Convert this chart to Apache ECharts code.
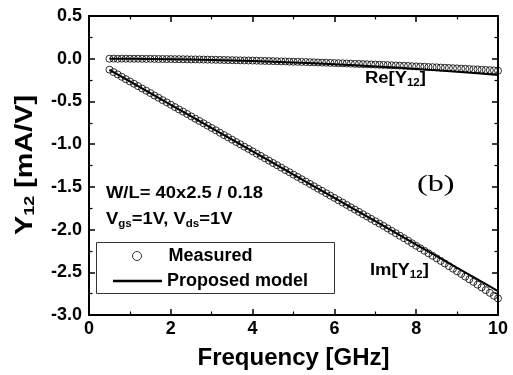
<!DOCTYPE html>
<html>
<head>
<meta charset="utf-8">
<script src="https://cdn.jsdelivr.net/npm/echarts@6/dist/echarts.min.js"></script>
<style>html,body{margin:0;padding:0;background:#fff}#c{width:513px;height:375px}</style>
</head>
<body>
<div id="c"></div>
<script>
// Measured frequency grid (GHz)
var measFreq = [0.5,0.6,0.7,0.8,0.9,1.0,1.1,1.2,1.3,1.4,1.5,1.6,1.7,1.8,1.9,2.0,2.1,2.2,2.3,2.4,2.5,2.6,2.7,2.8,2.9,3.0,3.1,3.2,3.3,3.4,3.5,3.6,3.7,3.8,3.9,4.0,4.1,4.2,4.3,4.4,4.5,4.6,4.7,4.8,4.9,5.0,5.1,5.2,5.3,5.4,5.5,5.6,5.7,5.8,5.9,6.0,6.1,6.2,6.3,6.4,6.5,6.6,6.7,6.8,6.9,7.0,7.1,7.2,7.3,7.4,7.5,7.6,7.7,7.8,7.9,8.0,8.1,8.2,8.3,8.4,8.5,8.6,8.7,8.8,8.9,9.0,9.1,9.2,9.3,9.4,9.5,9.6,9.7,9.8,9.9,10.0];
// Measured Re[Y12] (mA/V)
var measRe = [0.000,0.001,-0.001,0.001,0.000,0.000,-0.001,0.000,-0.001,-0.002,-0.001,-0.002,-0.003,-0.003,-0.004,-0.004,-0.005,-0.005,-0.006,-0.007,-0.008,-0.008,-0.009,-0.010,-0.011,-0.012,-0.013,-0.014,-0.015,-0.016,-0.017,-0.018,-0.019,-0.020,-0.021,-0.022,-0.023,-0.025,-0.026,-0.027,-0.028,-0.030,-0.031,-0.032,-0.034,-0.035,-0.036,-0.038,-0.039,-0.041,-0.042,-0.044,-0.046,-0.047,-0.049,-0.051,-0.052,-0.054,-0.056,-0.058,-0.060,-0.061,-0.063,-0.065,-0.067,-0.069,-0.071,-0.073,-0.075,-0.077,-0.079,-0.081,-0.083,-0.085,-0.088,-0.090,-0.092,-0.094,-0.097,-0.099,-0.101,-0.104,-0.106,-0.108,-0.111,-0.113,-0.116,-0.118,-0.121,-0.124,-0.126,-0.129,-0.132,-0.134,-0.137,-0.140];
// Measured Im[Y12] (mA/V)
var measIm = [-0.128,-0.157,-0.184,-0.212,-0.240,-0.266,-0.293,-0.321,-0.349,-0.375,-0.402,-0.431,-0.457,-0.485,-0.511,-0.538,-0.566,-0.594,-0.620,-0.647,-0.675,-0.703,-0.729,-0.756,-0.784,-0.811,-0.838,-0.866,-0.894,-0.920,-0.948,-0.976,-1.002,-1.030,-1.056,-1.084,-1.112,-1.138,-1.166,-1.193,-1.221,-1.247,-1.275,-1.303,-1.329,-1.357,-1.384,-1.411,-1.438,-1.466,-1.493,-1.521,-1.547,-1.575,-1.603,-1.629,-1.657,-1.684,-1.711,-1.739,-1.766,-1.793,-1.821,-1.847,-1.875,-1.903,-1.930,-1.957,-1.986,-2.015,-2.043,-2.072,-2.101,-2.130,-2.161,-2.190,-2.219,-2.248,-2.278,-2.307,-2.336,-2.367,-2.397,-2.428,-2.458,-2.489,-2.519,-2.551,-2.582,-2.613,-2.645,-2.677,-2.709,-2.741,-2.774,-2.806];
// Proposed model
var modelFreq = [0.5,1.0,1.5,2.0,2.5,3.0,3.5,4.0,4.5,5.0,5.5,6.0,6.5,7.0,7.5,8.0,8.5,9.0,9.5,10.0];
var modelRe = [0.000,0.000,-0.002,-0.005,-0.009,-0.014,-0.020,-0.027,-0.035,-0.044,-0.054,-0.065,-0.077,-0.090,-0.104,-0.119,-0.135,-0.152,-0.170,-0.190];
var modelIm = [-0.130,-0.266,-0.403,-0.539,-0.675,-0.812,-0.948,-1.084,-1.220,-1.357,-1.493,-1.629,-1.766,-1.902,-2.039,-2.175,-2.311,-2.448,-2.584,-2.720];
var xTicks = [0,2,4,6,8,10];
var yTicks = [0.5,0.0,-0.5,-1.0,-1.5,-2.0,-2.5,-3.0];

function pairs(xs, ys){ return xs.map(function(x,i){ return [x, ys[i]]; }); }

var F = 'Liberation Sans, Arial, sans-serif';
var chart = echarts.init(document.getElementById('c'));
var axisCommon = {
  axisLine:{show:true, onZero:false, lineStyle:{color:'#000', width:2}},
  axisTick:{show:true, inside:true, length:6, lineStyle:{color:'#000', width:1.5}},
  minorTick:{show:true, splitNumber:2, length:3.5, lineStyle:{color:'#000', width:1.2}},
  splitLine:{show:false}
};
function ax(extra){ return Object.assign({}, JSON.parse(JSON.stringify(axisCommon)), extra); }
function sub(size, pad){ return {
  m:{fontFamily:F, fontWeight:'bold', fontSize:size, fill:'#000'},
  s:{fontFamily:F, fontWeight:'bold', fontSize:Math.round(size*0.62), fill:'#000', padding:[pad,0,0,0]}}; }

var measStyle = {color:'rgba(255,255,255,0)', borderColor:'#000', borderWidth:1};
chart.setOption({
  animation:false,
  backgroundColor:'#fff',
  grid:{left:89, right:15, top:16, bottom:59},
  xAxis:[
    ax({type:'value', min:xTicks[0], max:xTicks[xTicks.length-1], interval:2, position:'bottom',
      axisLabel:{show:true, margin:5, color:'#000', fontFamily:F, fontWeight:'bold', fontSize:18},
      name:'Frequency [GHz]', nameLocation:'middle', nameGap:31,
      nameTextStyle:{color:'#000', fontFamily:F, fontWeight:'bold', fontSize:24}}),
    ax({type:'value', min:0, max:10, interval:2, position:'top', axisLabel:{show:false}})
  ],
  yAxis:[
    ax({type:'value', min:yTicks[yTicks.length-1], max:yTicks[0], interval:0.5, position:'left',
      axisLabel:{show:true, margin:7, color:'#000', fontFamily:F, fontWeight:'bold', fontSize:18,
        formatter:function(v){ return v.toFixed(1); }}}),
    ax({type:'value', min:-3, max:0.5, interval:0.5, position:'right', axisLabel:{show:false}})
  ],
  legend:[
    {left:132, top:247, padding:0, itemWidth:9, itemHeight:9, icon:'circle',
     textStyle:{color:'#000', fontFamily:F, fontWeight:'bold', fontSize:18, padding:[0,0,0,22]},
     data:[{name:'Measured', itemStyle:{color:'#fff', borderColor:'#000', borderWidth:1}}]},
    {left:113, top:272, padding:0, itemWidth:49, itemHeight:2.5, icon:'rect',
     textStyle:{color:'#000', fontFamily:F, fontWeight:'bold', fontSize:18},
     data:[{name:'Proposed model', itemStyle:{color:'#000'}}]}
  ],
  graphic:[
    {type:'rect', shape:{x:96.5, y:242.5, width:238, height:51}, style:{fill:'none', stroke:'#333', lineWidth:1}, z:1},
    {type:'text', x:25, y:165, rotation:Math.PI/2, scaleX:1.2, style:{text:'{m|Y}{s|12}{m| [mA/V]}',
      align:'center', verticalAlign:'middle', rich:sub(24, 10)}},
    {type:'text', x:365, y:70, scaleX:1.15, style:{text:'{m|Re[Y}{s|12}{m|]}', rich:sub(16, 8)}},
    {type:'text', x:370, y:262, scaleX:1.15, style:{text:'{m|Im[Y}{s|12}{m|]}', rich:sub(16, 8)}},
    {type:'text', x:417, y:173, scaleX:1.4, style:{text:'(b)', fontFamily:'Liberation Serif, Times New Roman, serif', fontSize:23, fill:'#000'}},
    {type:'text', x:106, y:186, scaleX:1.15, style:{text:'W/L= 40x2.5 / 0.18', fontFamily:F, fontWeight:'bold', fontSize:16, fill:'#000'}},
    {type:'text', x:106, y:210, scaleX:1.15, style:{text:'{m|V}{s|gs}{m|=1V, V}{s|ds}{m|=1V}', rich:sub(16, 9)}}
  ],
  series:[
    {name:'Proposed model', type:'line', data:pairs(modelFreq, modelRe), showSymbol:false, symbol:'none',
      lineStyle:{color:'#000', width:2}, itemStyle:{color:'#000'}, z:3},
    {name:'Proposed model', type:'line', data:pairs(modelFreq, modelIm), showSymbol:false, symbol:'none',
      lineStyle:{color:'#000', width:2}, itemStyle:{color:'#000'}, z:3},
    {name:'Measured', type:'scatter', data:pairs(measFreq, measRe), symbol:'circle', symbolSize:7,
      itemStyle:measStyle, z:2},
    {name:'Measured', type:'scatter', data:pairs(measFreq, measIm), symbol:'circle', symbolSize:7,
      itemStyle:measStyle, z:2}
  ]
});
</script>
</body>
</html>
